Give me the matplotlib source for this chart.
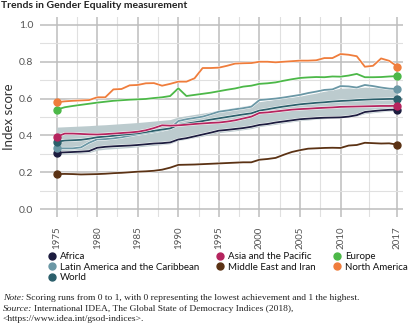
import matplotlib
matplotlib.use("Agg")
import matplotlib.pyplot as plt
import matplotlib.patheffects as pe
from matplotlib.lines import Line2D
import numpy as np

years = list(range(1975, 2018))

africa = [.306, .308, .310, .312, .315, .333, .338, .341, .343, .345, .348, .352, .356, .358, .362,
          .378, .385, .395, .405, .415, .426, .430, .435, .440, .447, .457, .462, .470, .476, .482,
          .488, .491, .494, .496, .497, .498, .502, .510, .527, .532, .536, .539, .540]
latam = [.330, .330, .330, .335, .360, .379, .380, .384, .390, .398, .406, .413, .420, .428, .438,
         .478, .488, .495, .502, .515, .529, .535, .542, .548, .556, .592, .596, .600, .606, .613,
         .620, .630, .638, .647, .650, .668, .666, .660, .674, .668, .660, .654, .652]
world = [.366, .372, .374, .376, .382, .390, .394, .398, .403, .407, .411, .418, .425, .432, .438,
         .457, .464, .471, .478, .486, .493, .500, .507, .514, .520, .535, .542, .550, .557, .563,
         .569, .573, .577, .580, .584, .587, .589, .592, .594, .596, .597, .598, .598]
asia = [.393, .410, .410, .408, .406, .405, .407, .410, .413, .416, .420, .428, .440, .455, .453,
        .455, .458, .462, .465, .468, .470, .475, .482, .492, .502, .522, .525, .530, .535, .540,
        .543, .545, .548, .550, .552, .555, .556, .557, .558, .559, .560, .560, .561]
mideast = [.190, .191, .190, .188, .189, .190, .192, .195, .197, .200, .203, .205, .208, .214, .225,
           .240, .241, .242, .244, .246, .248, .250, .252, .254, .254, .268, .272, .278, .295, .310,
           .320, .328, .330, .332, .333, .332, .345, .348, .360, .358, .356, .357, .350]
europe = [.540, .553, .560, .566, .572, .578, .583, .588, .591, .594, .596, .598, .603, .607, .614,
          .656, .614, .620, .626, .632, .640, .648, .655, .665, .670, .680, .683, .688, .697, .705,
          .712, .715, .717, .716, .720, .719, .725, .734, .716, .716, .717, .720, .722]
namerica = [.580, .585, .588, .590, .592, .607, .607, .650, .652, .672, .674, .683, .684, .670, .680,
            .692, .692, .710, .766, .766, .768, .778, .790, .792, .793, .800, .800, .797, .800, .803,
            .806, .806, .808, .820, .820, .842, .838, .830, .773, .778, .818, .805, .774]
band_high = [.445, .447, .449, .451, .453, .456, .458, .461, .464, .467, .470, .474, .478, .482, .486,
             .500, .507, .514, .521, .528, .538, .545, .552, .559, .566, .583, .590, .597, .603, .608,
             .613, .622, .630, .640, .648, .656, .658, .658, .662, .660, .659, .658, .657]
band_low = [.295, .298, .300, .303, .306, .320, .325, .328, .331, .334, .338, .342, .346, .350, .355,
            .372, .380, .388, .396, .405, .415, .420, .425, .431, .437, .448, .454, .460, .467, .474,
            .480, .484, .488, .491, .494, .497, .500, .505, .518, .523, .528, .532, .535]

series_names = ["Africa", "Latin America and the Caribbean", "World", "Asia and the Pacific",
                "Middle East and Iran", "Europe", "North America"]
series_vals = [africa, latam, world, asia, mideast, europe, namerica]
series_colors = ["#1c1c3f", "#6a97a5", "#2b5f6b", "#b5245e", "#5b3214", "#4cb848", "#ef7d3c"]

xticks = [1975, 1980, 1985, 1990, 1995, 2000, 2005, 2010, 2017]
yticks = [0.0, 0.2, 0.4, 0.6, 0.8, 1.0]

SANS = ["Lato", "DejaVu Sans"]
SERIF = ["Liberation Serif", "DejaVu Serif"]

fig = plt.figure(figsize=(4.14, 3.29), dpi=100)
ax = fig.add_axes([40/414, 1-217/329, 363/414, 200/329])

ax.fill_between(years, band_low, band_high, color="#bccbce", lw=0, zorder=2)

draw_order = [4, 0, 3, 1, 2, 5, 6]
for i in draw_order:
    v = series_vals[i]
    c = series_colors[i]
    ax.plot(years, v, color=c, lw=1.3, zorder=3 + i * 0.1,
            path_effects=[pe.Stroke(linewidth=2.0, foreground="white"), pe.Normal()],
            solid_joinstyle="round")
    ax.plot([years[0], years[-1]], [v[0], v[-1]], "o", color=c, ms=5, zorder=4 + i * 0.1)

ax.set_xlim(1972.95, 2017.7)
ax.set_ylim(-0.043, 1.043)
ax.set_xticks(xticks)
ax.set_xticks([(a + b) / 2 for a, b in zip(xticks[:-1], xticks[1:])], minor=True)
ax.set_yticks(yticks)
ax.set_yticks([0.1, 0.3, 0.5, 0.7, 0.9], minor=True)
ax.set_yticklabels([f"{t:.1f}" for t in yticks])
ax.set_xticklabels([str(t) for t in xticks], rotation=90)

ax.grid(which="major", color="#bdbdbd", lw=1.1, zorder=0)
ax.grid(which="minor", color="#e0e0e0", lw=0.8, zorder=0)
ax.set_axisbelow(True)
for s in ax.spines.values():
    s.set_visible(False)
ax.tick_params(axis="x", which="both", length=0, pad=7, labelsize=7, labelcolor="#555555")
ax.tick_params(axis="y", which="both", length=0, pad=5, labelsize=7.5, labelcolor="#555555")
for lab in ax.get_xticklabels() + ax.get_yticklabels():
    lab.set_family(SANS)

ax.set_ylabel("Index score", family=SANS, fontsize=9.5, color="#333333", labelpad=3)

fig.text(1/414, 1-6/329, "Trends in Gender Equality measurement", family=SANS,
         fontweight="bold", fontsize=7.5, color="#222222", va="center", ha="left")

handles = [Line2D([], [], marker="o", ls="none", color=c, ms=5) for c in series_colors]
col_groups = [(0, 3, 46), (3, 5, 214), (5, 7, 331)]
for a, b, xpx in col_groups:
    lg = fig.legend(handles[a:b], series_names[a:b], loc="upper left",
                    bbox_to_anchor=(xpx/414, 1-252/329), frameon=False,
                    prop={"family": SANS, "size": 7.0}, handletextpad=0.25,
                    labelspacing=0.18, borderaxespad=0, borderpad=0,
                    handlelength=1.2, labelcolor="#111111")

fig.canvas.draw()
renderer = fig.canvas.get_renderer()

def rich(x, y, prefix, rest, size=6.8):
    t1 = fig.text(x, y, prefix, family=SERIF, style="italic", fontsize=size, va="center",
                  ha="left", color="#222222")
    bb = t1.get_window_extent(renderer=renderer)
    fig.text(bb.x1 / fig.bbox.width + 2/414, y, rest, family=SERIF, fontsize=size,
             va="center", ha="left", color="#222222")

rich(3/414, 1-298/329, "Note:",
     "Scoring runs from 0 to 1, with 0 representing the lowest achievement and 1 the highest.")
rich(3/414, 1-309/329, "Source:",
     "International IDEA, The Global State of Democracy Indices (2018),")
fig.text(3/414, 1-319/329, "<https://www.idea.int/gsod-indices>.", family=SERIF, fontsize=6.8,
         va="center", ha="left", color="#222222")

fig.savefig("out.png", dpi=100)
